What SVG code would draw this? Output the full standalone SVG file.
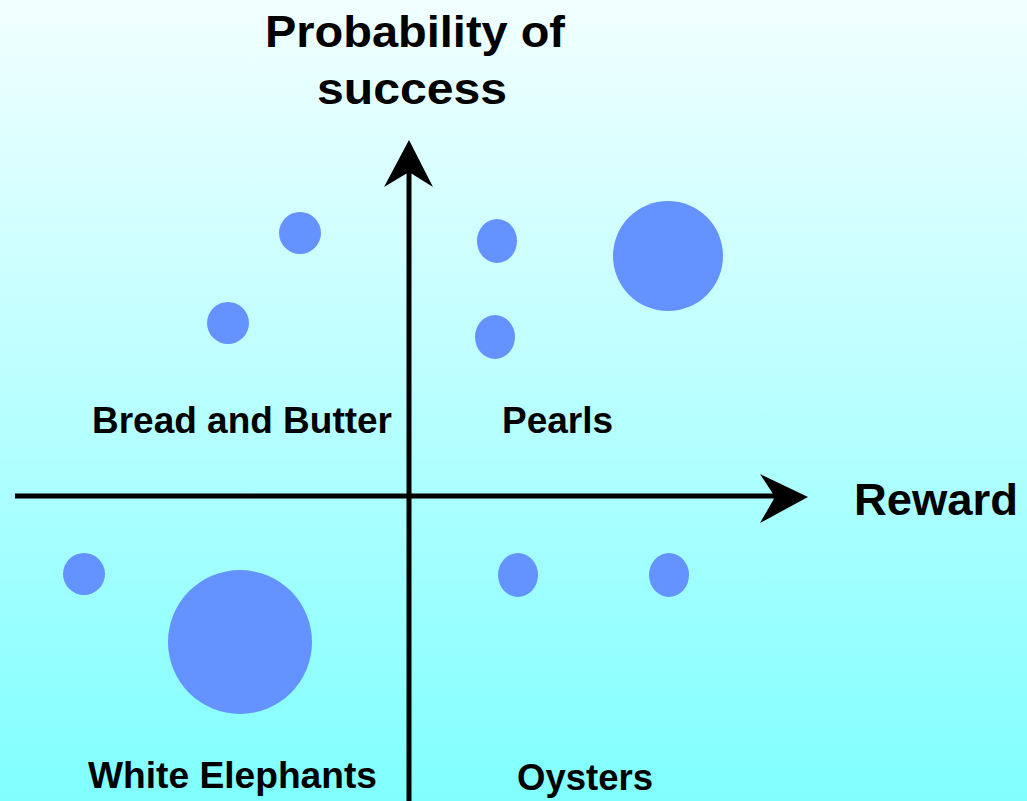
<svg xmlns="http://www.w3.org/2000/svg" width="1027" height="801" viewBox="0 0 1027 801">
<defs>
<linearGradient id="bg" x1="0" y1="0" x2="0" y2="1">
<stop offset="0" stop-color="#F2FFFF"/>
<stop offset="1" stop-color="#80FFFF"/>
</linearGradient>
</defs>
<style>
.lbl{font-family:"Liberation Sans",Arial,sans-serif;font-weight:bold;fill:#000}
.dot{fill:#6492FF}
.axis{stroke:#000;stroke-width:5;fill:none}
</style>
<rect width="1027" height="801" fill="url(#bg)"/>
<g id="connectors">
<line class="axis" x1="409" y1="801" x2="409" y2="165"/>
<polygon points="409,140 433,187 409,172 384,187" fill="#000"/>
<line class="axis" x1="15" y1="496" x2="780" y2="496"/>
<polygon points="808,497 760,474 775,497 760,523" fill="#000"/>
</g>
<g id="dots">
<ellipse class="dot" cx="300" cy="233" rx="21" ry="21"/>
<ellipse class="dot" cx="228" cy="323" rx="21" ry="21"/>
<ellipse class="dot" cx="497" cy="241" rx="20" ry="22"/>
<ellipse class="dot" cx="495" cy="337" rx="20" ry="22"/>
<circle class="dot" cx="668" cy="256" r="55"/>
<circle class="dot" cx="84" cy="574" r="21"/>
<circle class="dot" cx="240" cy="642" r="72"/>
<ellipse class="dot" cx="518" cy="575" rx="20" ry="22"/>
<ellipse class="dot" cx="669" cy="575" rx="20" ry="22"/>
</g>
<g id="y-axis-label">
<text class="lbl" x="265" y="47" font-size="44" textLength="300" lengthAdjust="spacingAndGlyphs">Probability of</text>
<text class="lbl" x="317" y="104" font-size="44" textLength="190" lengthAdjust="spacingAndGlyphs">success</text>
</g>
<g id="x-axis-label">
<text class="lbl" x="854" y="515" font-size="44" textLength="164" lengthAdjust="spacingAndGlyphs">Reward</text>
</g>
<g id="bread-and-butter">
<text class="lbl" x="92" y="433" font-size="36" textLength="300" lengthAdjust="spacingAndGlyphs">Bread and Butter</text>
</g>
<g id="pearls">
<text class="lbl" x="502" y="433" font-size="36" textLength="111" lengthAdjust="spacingAndGlyphs">Pearls</text>
</g>
<g id="white-elephants">
<text class="lbl" x="88" y="788" font-size="36" textLength="289" lengthAdjust="spacingAndGlyphs">White Elephants</text>
</g>
<g id="oysters">
<text class="lbl" x="517" y="790" font-size="36" textLength="136" lengthAdjust="spacingAndGlyphs">Oysters</text>
</g>
</svg>
